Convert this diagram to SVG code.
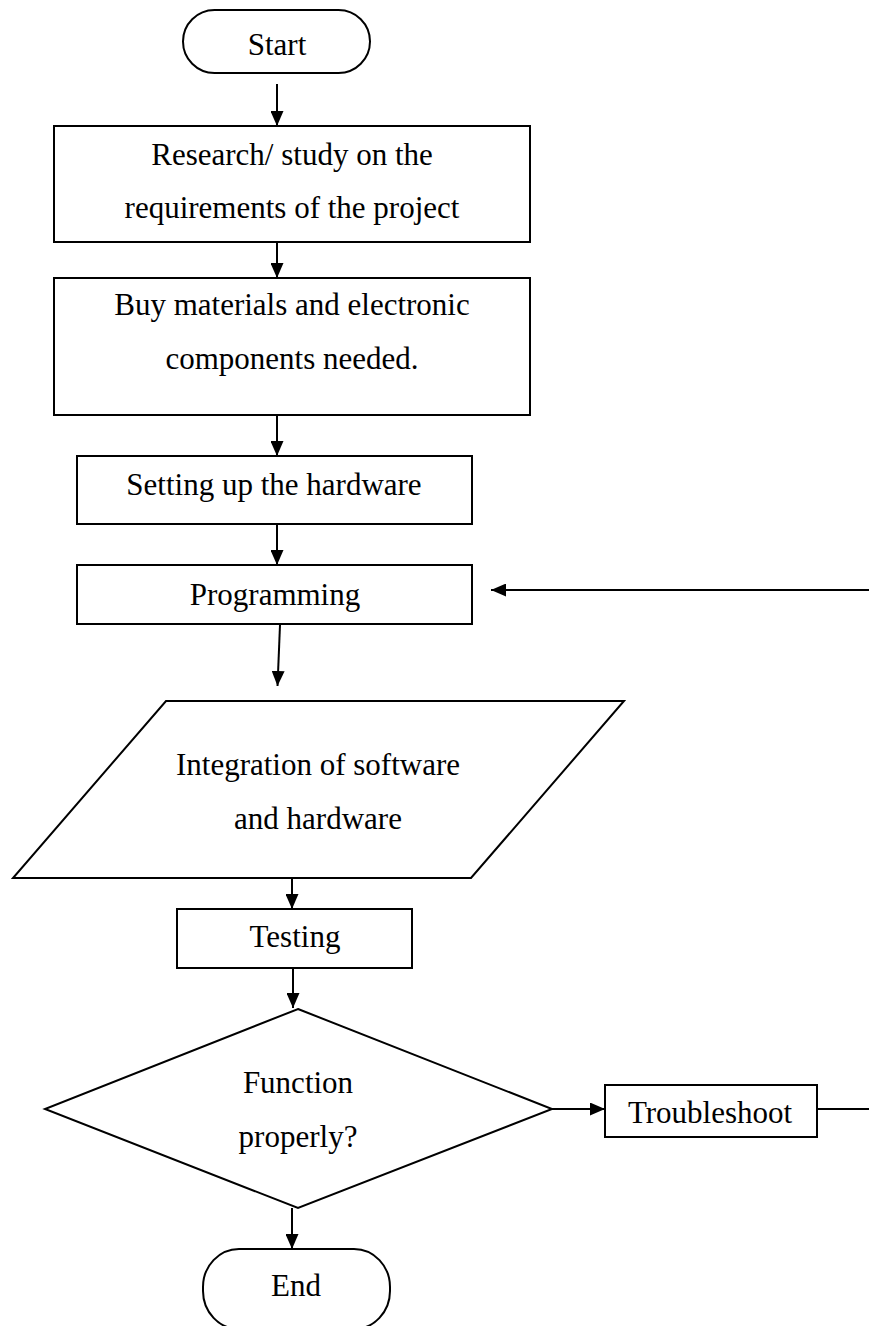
<svg xmlns="http://www.w3.org/2000/svg" width="869" height="1326" viewBox="0 0 869 1326">
<defs>
<marker id="arr" markerWidth="15" markerHeight="13" refX="15" refY="6.5" orient="auto" markerUnits="userSpaceOnUse">
<path d="M0,0 L15,6.5 L0,13 z" fill="#000"/>
</marker>
<style>
.shape{fill:#fff;stroke:#000;stroke-width:2}
.t{font-family:"Liberation Serif","Times New Roman",serif;font-size:31px;fill:#000;text-anchor:middle}
.c{stroke:#000;stroke-width:2;fill:none}
.ca{stroke:#000;stroke-width:2;fill:none;marker-end:url(#arr)}
</style>
</defs>
<rect width="869" height="1326" fill="#fff"/>
<g id="connectors">
<line class="ca" x1="277" y1="84" x2="277" y2="126"/>
<line class="ca" x1="277" y1="242" x2="277" y2="278"/>
<line class="ca" x1="277" y1="415" x2="277" y2="456"/>
<line class="ca" x1="277" y1="524" x2="277" y2="565"/>
<line class="ca" x1="280" y1="625" x2="277.5" y2="686"/>
<line class="ca" x1="292" y1="878" x2="292" y2="909"/>
<line class="ca" x1="293" y1="968" x2="293" y2="1008"/>
<line class="ca" x1="292" y1="1208" x2="292" y2="1249"/>
<line class="ca" x1="552" y1="1109" x2="605" y2="1109"/>
<line class="c" x1="817" y1="1109" x2="869" y2="1109"/>
<line class="ca" x1="869" y1="590" x2="491" y2="590"/>
</g>
<g id="start">
<rect class="shape" x="183" y="10" width="187" height="63" rx="31.5" ry="31.5"/>
<text class="t" x="277" y="55">Start</text>
</g>
<g id="research">
<rect class="shape" x="54" y="126" width="476" height="116"/>
<text class="t" x="292" y="165">Research/ study on the</text>
<text class="t" x="292" y="218">requirements of the project</text>
</g>
<g id="buy">
<rect class="shape" x="54" y="278" width="476" height="137"/>
<text class="t" x="292" y="315">Buy materials and electronic</text>
<text class="t" x="292" y="369">components needed.</text>
</g>
<g id="setting">
<rect class="shape" x="77" y="456" width="395" height="68"/>
<text class="t" x="274" y="495">Setting up the hardware</text>
</g>
<g id="programming">
<rect class="shape" x="77" y="565" width="395" height="59"/>
<text class="t" x="275" y="605">Programming</text>
</g>
<g id="integration">
<polygon class="shape" points="166,701 624,701 471,878 13,878"/>
<text class="t" x="318" y="775">Integration of software</text>
<text class="t" x="318" y="829">and hardware</text>
</g>
<g id="testing">
<rect class="shape" x="177" y="909" width="235" height="59"/>
<text class="t" x="295" y="947">Testing</text>
</g>
<g id="decision">
<polygon class="shape" points="298,1009 552,1109 298,1208 45,1109"/>
<text class="t" x="298" y="1093">Function</text>
<text class="t" x="298" y="1147">properly?</text>
</g>
<g id="troubleshoot">
<rect class="shape" x="605" y="1085" width="212" height="52"/>
<text class="t" x="710" y="1123">Troubleshoot</text>
</g>
<g id="end">
<rect class="shape" x="203" y="1249" width="187" height="80" rx="36" ry="38"/>
<text class="t" x="296" y="1296">End</text>
</g>
</svg>
